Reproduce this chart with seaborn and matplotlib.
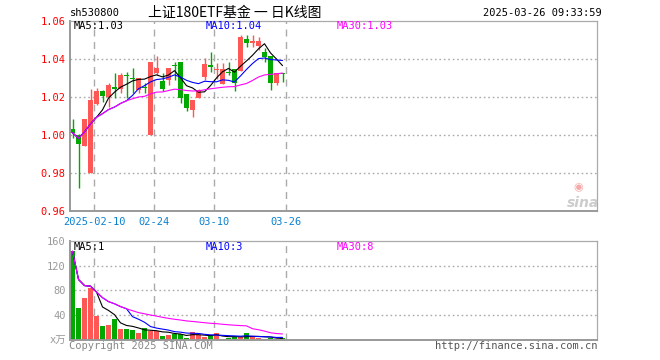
import numpy as np
import pandas as pd
import seaborn as sns
import matplotlib.pyplot as plt

# 日K数据
dates = ['02-05', '02-06', '02-07', '02-10', '02-11', '02-12', '02-13', '02-14',
         '02-17', '02-18', '02-19', '02-20', '02-21', '02-24', '02-25', '02-26',
         '02-27', '02-28', '03-03', '03-04', '03-05', '03-06', '03-07', '03-10',
         '03-11', '03-12', '03-13', '03-14', '03-17', '03-18', '03-19', '03-20',
         '03-21', '03-24', '03-25', '03-26']
opens = [1.0032, 1.0000, 0.9942, 0.9799, 1.0163, 1.0232, 1.0202, 1.0251, 1.0242,
         1.0318, 1.0302, 1.0237, 1.0253, 1.0000, 1.0328, 1.0284, 1.0289, 1.0367,
         1.0384, 1.0216, 1.0132, 1.0197, 1.0307, 1.0366, 1.0342, 1.0267, 1.0330,
         1.0346, 1.0339, 1.0505, 1.0486, 1.0468, 1.0438, 1.0416, 1.0275, 1.0325]
highs = [1.0084, 1.0005, 1.0084, 1.0244, 1.0246, 1.0237, 1.0272, 1.0328, 1.0328,
         1.0333, 1.0354, 1.0302, 1.0275, 1.0384, 1.0416, 1.0325, 1.0351, 1.0386,
         1.0384, 1.0216, 1.0184, 1.0242, 1.0404, 1.0438, 1.0380, 1.0377, 1.0382,
         1.0346, 1.0525, 1.0526, 1.0526, 1.0517, 1.0456, 1.0416, 1.0325, 1.0325]
lows = [0.9984, 0.9723, 0.9940, 0.9799, 1.0160, 1.0176, 1.0149, 1.0193, 1.0220,
        1.0193, 1.0220, 1.0220, 1.0223, 1.0000, 1.0316, 1.0232, 1.0263, 1.0289,
        1.0170, 1.0126, 1.0097, 1.0197, 1.0289, 1.0333, 1.0293, 1.0267, 1.0316,
        1.0232, 1.0339, 1.0465, 1.0465, 1.0447, 1.0386, 1.0237, 1.0263, 1.0281]
closes = [1.0012, 0.9953, 1.0084, 1.0186, 1.0232, 1.0207, 1.0263, 1.0240, 1.0316,
          1.0310, 1.0295, 1.0302, 1.0247, 1.0384, 1.0354, 1.0242, 1.0351, 1.0363,
          1.0197, 1.0144, 1.0184, 1.0237, 1.0374, 1.0360, 1.0347, 1.0346, 1.0325,
          1.0275, 1.0517, 1.0486, 1.0495, 1.0495, 1.0409, 1.0275, 1.0325, 1.0322]
volumes = [143, 52, 68, 84, 39, 23, 24, 34, 18, 18, 16, 11, 19, 14.5, 14.5, 6.5,
           8, 9, 10, 3, 13, 8, 5, 6, 11, 2, 3, 5, 5, 11, 5, 3, 2, 3, 2, 3]

tick_dates = ['02-10', '02-24', '03-10', '03-26']
tick_labels = ['2025-02-10', '02-24', '03-10', '03-26']
price_ticks = [0.96, 0.98, 1.00, 1.02, 1.04, 1.06]
vol_ticks = [0, 40, 80, 120, 160]
vol_tick_labels = ['x万', '40', '80', '120', '160']

df = pd.DataFrame({'date': dates, 'open': opens, 'high': highs, 'low': lows,
                   'close': closes, 'vol': volumes})
df['i'] = np.arange(len(df))
df['up'] = np.where(df['close'] >= df['open'], 'up', 'down')
for n in [5, 10, 30]:
    df[f'ma{n}'] = df['close'].rolling(n, min_periods=1).mean()
    df[f'vma{n}'] = df['vol'].rolling(n, min_periods=1).mean()

RED = '#ff5656'
GREEN = '#00a800'
colors = {'up': RED, 'down': GREEN}
MONO = 'DejaVu Sans Mono'

sns.set_style('white')
plt.rcParams['font.family'] = ['DejaVu Sans Mono', 'Noto Sans CJK SC']

W, H = 660, 360
fig = plt.figure(figsize=(6.6, 3.6), dpi=100)
ax1 = fig.add_axes([70 / W, 1 - 211 / H, 527 / W, 190 / H])
ax2 = fig.add_axes([70 / W, 1 - 340 / H, 527 / W, 99.3 / H])

tick_pos = [df.index[df['date'] == d][0] + 0.65 for d in tick_dates]
xlim = (-0.42, 87.42)

# K线
body_bottom = np.minimum(df['open'], df['close'])
body_h = np.maximum(np.abs(df['close'] - df['open']), 0.0004)
ax1.vlines(df['i'], df['low'], df['high'], colors=df['up'].map(colors), lw=1)
ax1.bar(df['i'], body_h, bottom=body_bottom, width=0.83,
        color=df['up'].map(colors), linewidth=0)
sns.lineplot(data=df, x='i', y='ma5', ax=ax1, color='black', lw=0.8)
sns.lineplot(data=df, x='i', y='ma10', ax=ax1, color='#0000ff', lw=0.8)
sns.lineplot(data=df, x='i', y='ma30', ax=ax1, color='#ff00ff', lw=0.8)

# 成交量
sns.barplot(data=df, x='i', y='vol', hue='up', palette=colors, dodge=False,
            width=0.83, ax=ax2, legend=False, linewidth=0, saturation=1)
sns.lineplot(data=df, x='i', y='vma5', ax=ax2, color='black', lw=0.8)
sns.lineplot(data=df, x='i', y='vma10', ax=ax2, color='#0000ff', lw=0.8)
sns.lineplot(data=df, x='i', y='vma30', ax=ax2, color='#ff00ff', lw=0.8)

for ax in (ax1, ax2):
    ax.set_xlim(*xlim)
    ax.set_xlabel('')
    ax.set_ylabel('')
    for x in tick_pos:
        ax.axvline(x, color='#aaaaaa', lw=1, ls=(0, (5, 4)), zorder=0)
    for side in ['top', 'right']:
        ax.spines[side].set_color('#aaaaaa')
        ax.spines[side].set_linewidth(0.9)
    for side in ['left', 'bottom']:
        ax.spines[side].set_color('#999999')
        ax.spines[side].set_linewidth(1.4)
    ax.tick_params(length=0)

ax1.set_ylim(0.96, 1.06)
ax1.set_yticks(price_ticks)
ax1.set_yticklabels([f'{v:.2f}' for v in price_ticks], color='#ff0000',
                    fontsize=7.5, family=MONO)
for v in price_ticks[1:-1]:
    ax1.axhline(v, color='#aaaaaa', lw=1, ls=(0, (1.2, 2)), zorder=0)
ax1.set_xticks(tick_pos)
ax1.set_xticklabels(tick_labels, color='#0a80d0', fontsize=7.5, family=MONO)
ax1.tick_params(axis='x', pad=4)
ax1.tick_params(axis='y', pad=3)

ax2.set_ylim(0, 160)
ax2.set_yticks(vol_ticks)
ax2.set_yticklabels(vol_tick_labels, color='#999999', fontsize=7.5,
                    family=[MONO, 'Noto Sans CJK SC'])
for v in vol_ticks[1:-1]:
    ax2.axhline(v, color='#aaaaaa', lw=1, ls=(0, (1.2, 2)), zorder=0)
ax2.set_xticks([])
ax2.tick_params(axis='y', pad=3)


def ftext(x, y, s, **kw):
    fig.text(x / W, 1 - y / H, s, va='center', **kw)


ftext(70, 13, 'sh530800', fontsize=7.5, family=MONO, color='black')
ftext(235, 13, '上证180ETF基金 一 日K线图', fontsize=10, ha='center',
      family=['Noto Sans CJK SC', 'DejaVu Sans'], color='black')
ftext(602, 13, '2025-03-26 09:33:59', fontsize=7.5, ha='right', family=MONO, color='black')

ftext(74, 26, 'MA5:1.03', fontsize=7.5, family=MONO, color='black')
ftext(206, 26, 'MA10:1.04', fontsize=7.5, family=MONO, color='#0000ff')
ftext(337, 26, 'MA30:1.03', fontsize=7.5, family=MONO, color='#ff00ff')

ftext(74, 247, 'MA5:1', fontsize=7.5, family=MONO, color='black')
ftext(206, 247, 'MA10:3', fontsize=7.5, family=MONO, color='#0000ff')
ftext(337, 247, 'MA30:8', fontsize=7.5, family=MONO, color='#ff00ff')

ftext(69, 346, 'Copyright 2025 SINA.COM', fontsize=7.5, family=MONO, color='#888888')
ftext(597, 346, 'http://finance.sina.com.cn', fontsize=7.5, ha='right', family=MONO,
      color='#555555')
# sina 水印
ftext(578, 187, '◉', fontsize=8, ha='center', family='DejaVu Sans', color='#f6a8a8')
ftext(583, 203, 'sina', fontsize=10, ha='center', family='DejaVu Sans',
      fontweight='bold', style='italic', color='#cccccc')

fig.savefig('out.png', dpi=100)
